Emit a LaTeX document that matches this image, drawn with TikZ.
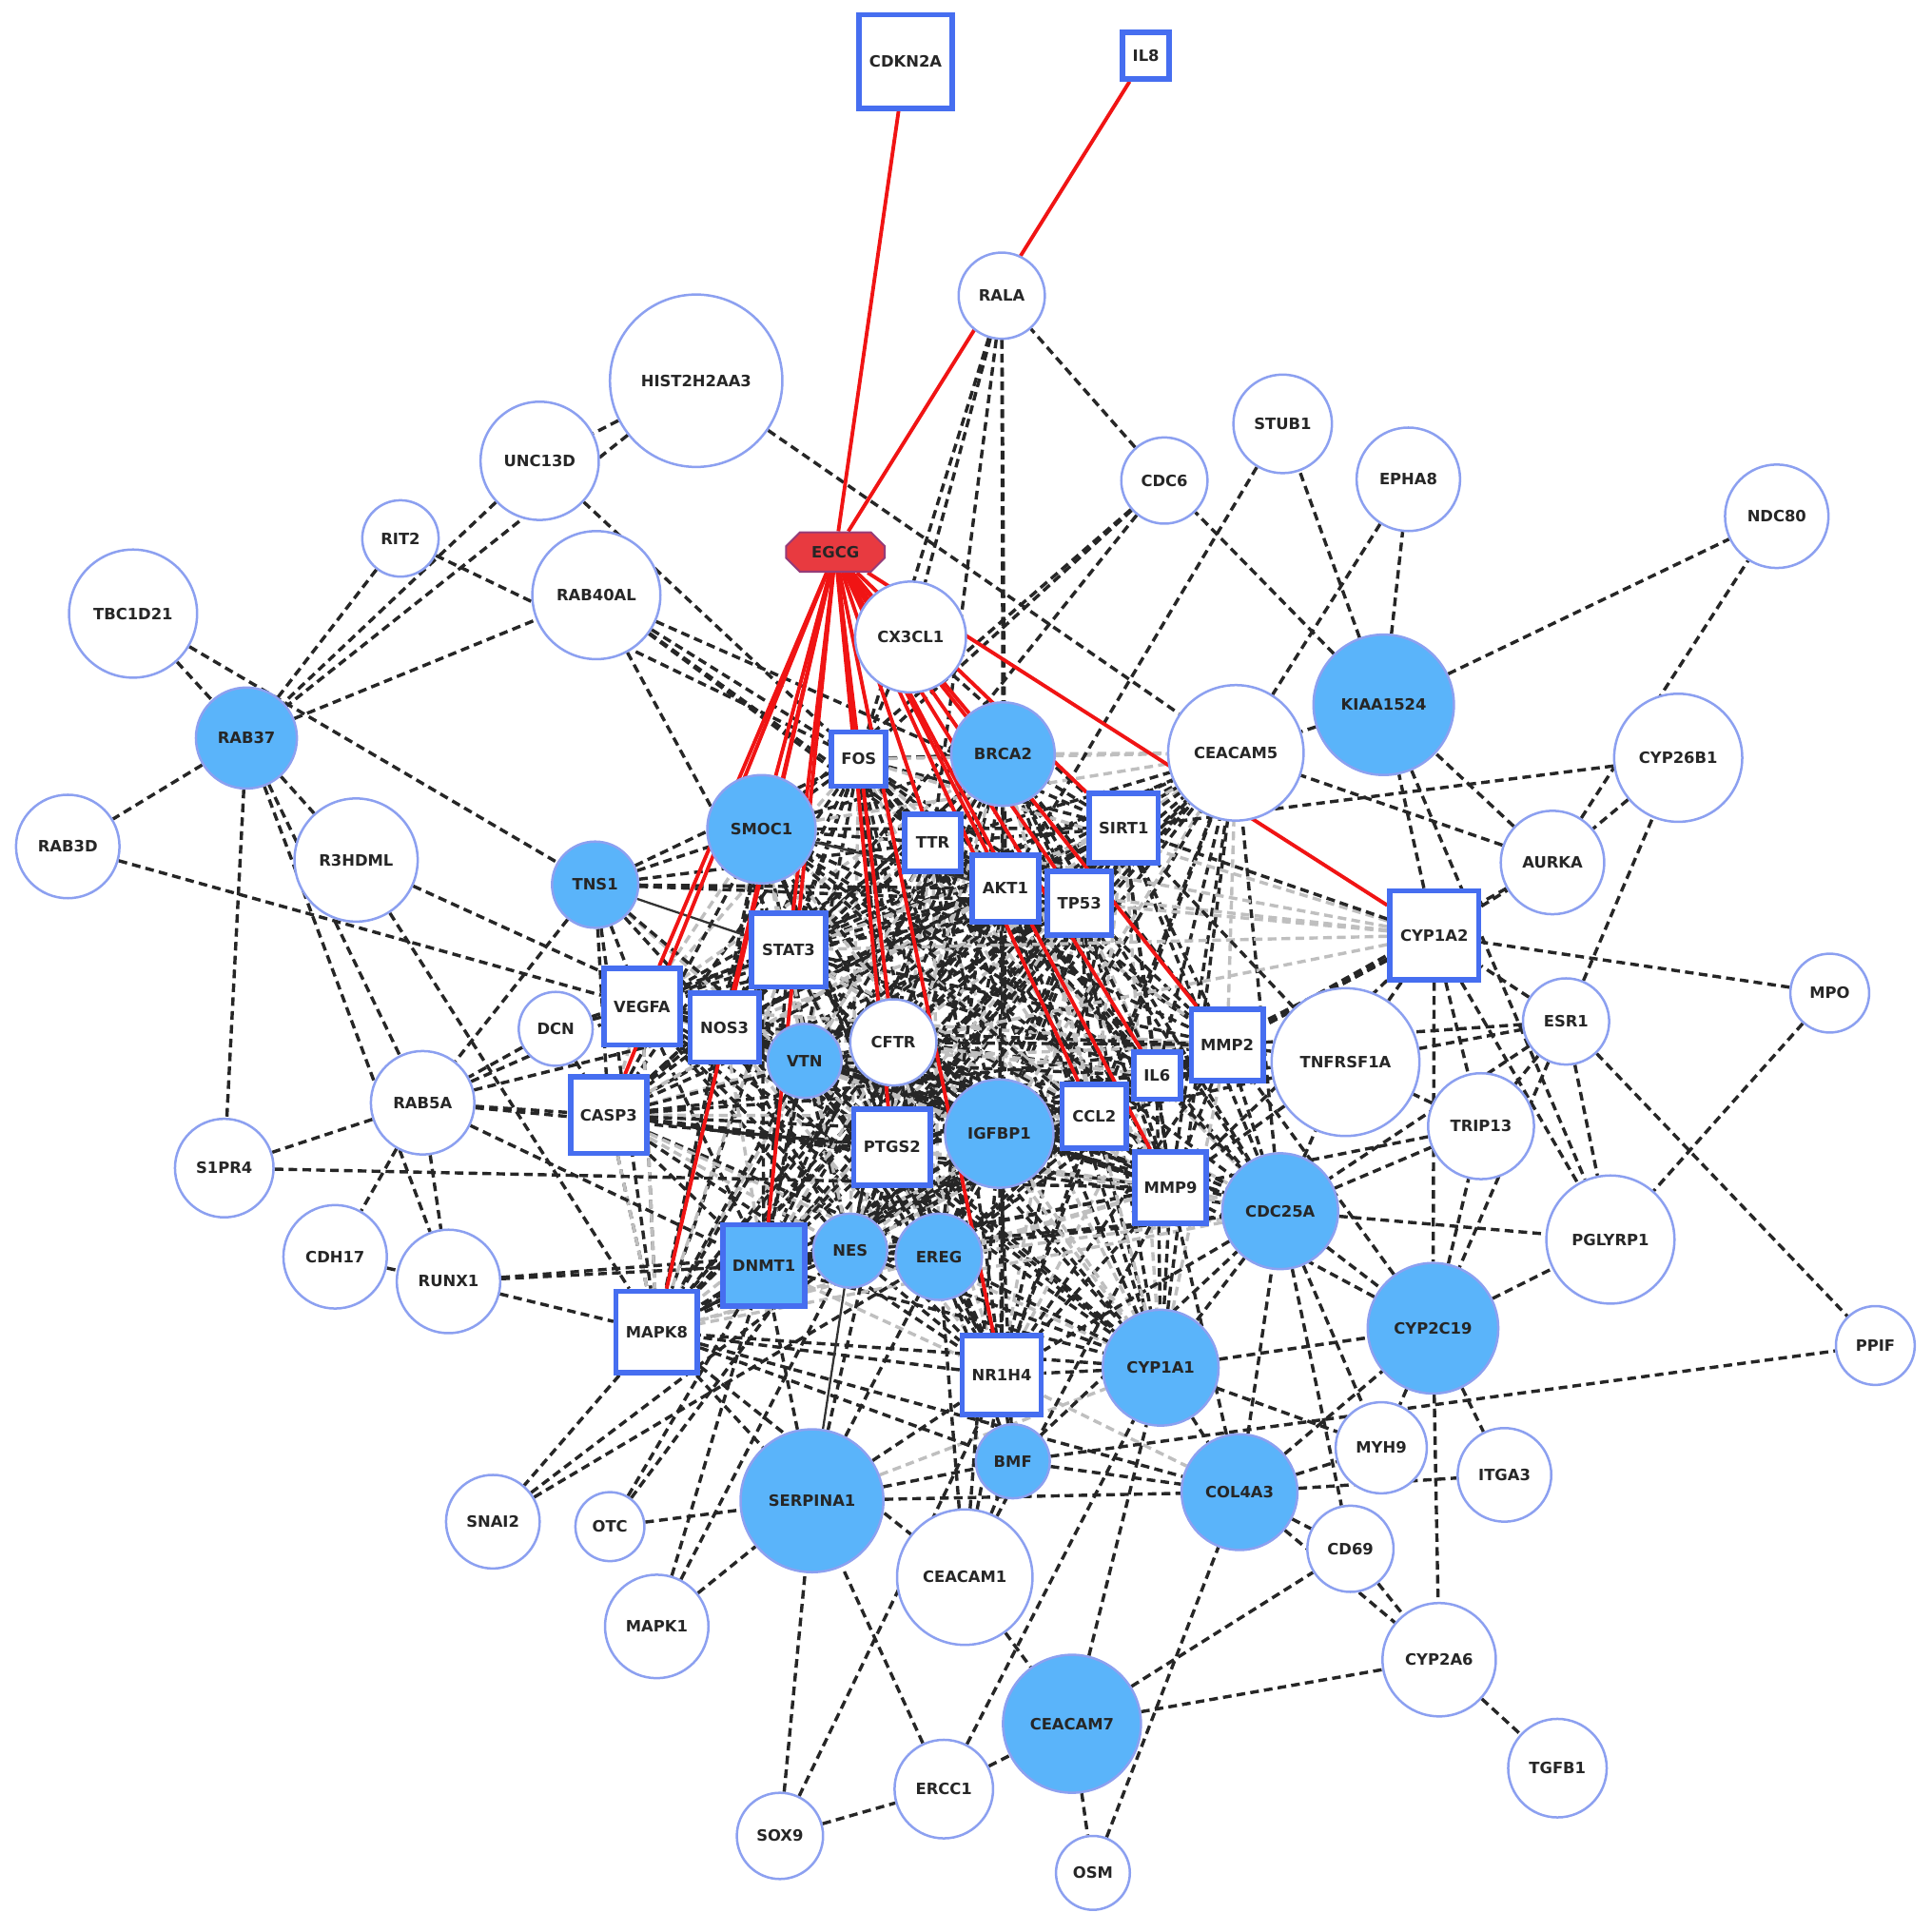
\documentclass[tikz,border=0pt]{standalone}
\usepackage{fontspec}
\setmainfont{DejaVu Sans}
\usepackage{xcolor}
\usepackage{tikz}
\usetikzlibrary{shapes,arrows.meta,backgrounds}

\definecolor{hitblue}{RGB}{90,180,250}
\definecolor{ringblue}{RGB}{140,160,240}
\definecolor{boxblue}{RGB}{70,110,240}
\definecolor{drugred}{RGB}{232,58,64}
\definecolor{drugline}{RGB}{150,60,120}
\definecolor{linkred}{RGB}{240,20,20}

\newcommand{\genefont}{\fontsize{7.2}{8}\selectfont\bfseries}
\newcommand{\corelist}{FOS,TTR,AKT1,TP53,SIRT1,STAT3,VEGFA,NOS3,CASP3,PTGS2,CCL2,IL6,MMP2,MMP9,VTN,CFTR,IGFBP1,EREG,NES,DNMT1,SMOC1,CDC25A,CYP1A1,NR1H4,BRCA2,MAPK8,CEACAM5}

\begin{document}
\begin{tikzpicture}[
    x=0.02cm, y=-0.02cm,
    gene/.style={circle, draw=ringblue, line width=1.1pt, fill=white, minimum size=#1*0.04cm, inner sep=0pt, font=\genefont, text=black!85},
    hit/.style={gene=#1, fill=hitblue},
    target/.style={rectangle, draw=boxblue, line width=2.5pt, fill=white, minimum size=#1*0.02cm, inner sep=0pt, font=\genefont, text=black!85},
    drug/.style={chamfered rectangle, chamfered rectangle xsep=0.22cm, draw=drugline, line width=0.9pt, fill=drugred, minimum width=1.6cm, minimum height=0.64cm, inner sep=0pt, font=\genefont, text=black!85},
    assoc/.style={black!85, line width=1.5pt, dash pattern=on 4pt off 2.4pt},
    assocfaint/.style={assoc, black!25},
    assocsolid/.style={black!80, line width=1pt},
    egcglink/.style={linkred, line width=1.7pt}
]
    \useasboundingbox (0,0) rectangle (1568,1568);

    % compound
    \node[drug] (EGCG) at (678,448) {EGCG};

    % targets
    \node[target=76] (CDKN2A) at (735,50) {CDKN2A};
    \node[target=38] (IL8) at (930,45) {IL8};
    \node[target=44] (FOS) at (697,616) {FOS};
    \node[target=46] (TTR) at (757,684) {TTR};
    \node[target=54] (AKT1) at (816,721) {AKT1};
    \node[target=52] (TP53) at (876,733) {TP53};
    \node[target=56] (SIRT1) at (912,672) {SIRT1};
    \node[target=60] (STAT3) at (640,771) {STAT3};
    \node[target=62] (VEGFA) at (521,817) {VEGFA};
    \node[target=56] (NOS3) at (588,834) {NOS3};
    \node[target=62] (CASP3) at (494,905) {CASP3};
    \node[target=62] (PTGS2) at (724,931) {PTGS2};
    \node[target=52] (CCL2) at (888,906) {CCL2};
    \node[target=38] (IL6) at (939,873) {IL6};
    \node[target=58] (MMP2) at (996,848) {MMP2};
    \node[target=58] (MMP9) at (950,964) {MMP9};
    \node[target=72] (CYP1A2) at (1164,759) {CYP1A2};
    \node[target=66] (MAPK8) at (533,1081) {MAPK8};
    \node[target=64] (NR1H4) at (813,1116) {NR1H4};
    \node[target=66, fill=hitblue] (DNMT1) at (620,1027) {DNMT1};

    % genes
    \node[gene=35] (RALA) at (813,240) {RALA};
    \node[gene=70] (HIST2H2AA3) at (565,309) {HIST2H2AA3};
    \node[gene=48] (UNC13D) at (438,374) {UNC13D};
    \node[gene=31] (RIT2) at (325,437) {RIT2};
    \node[gene=52] (TBC1D21) at (108,498) {TBC1D21};
    \node[gene=52] (RAB40AL) at (484,483) {RAB40AL};
    \node[gene=45] (CX3CL1) at (739,517) {CX3CL1};
    \node[gene=35] (CDC6) at (945,390) {CDC6};
    \node[gene=40] (STUB1) at (1041,344) {STUB1};
    \node[gene=42] (EPHA8) at (1143,389) {EPHA8};
    \node[gene=42] (NDC80) at (1442,419) {NDC80};
    \node[gene=55] (CEACAM5) at (1003,611) {CEACAM5};
    \node[gene=52] (CYP26B1) at (1362,615) {CYP26B1};
    \node[gene=42] (AURKA) at (1260,700) {AURKA};
    \node[gene=50] (R3HDML) at (289,698) {R3HDML};
    \node[gene=42] (RAB3D) at (55,687) {RAB3D};
    \node[gene=30] (DCN) at (451,835) {DCN};
    \node[gene=35] (CFTR) at (725,846) {CFTR};
    \node[gene=60] (TNFRSF1A) at (1092,862) {TNFRSF1A};
    \node[gene=35] (ESR1) at (1271,829) {ESR1};
    \node[gene=32] (MPO) at (1485,806) {MPO};
    \node[gene=43] (TRIP13) at (1202,914) {TRIP13};
    \node[gene=42] (RAB5A) at (343,895) {RAB5A};
    \node[gene=40] (S1PR4) at (182,948) {S1PR4};
    \node[gene=42] (CDH17) at (272,1020) {CDH17};
    \node[gene=42] (RUNX1) at (364,1040) {RUNX1};
    \node[gene=52] (PGLYRP1) at (1307,1006) {PGLYRP1};
    \node[gene=32] (PPIF) at (1522,1092) {PPIF};
    \node[gene=37] (MYH9) at (1121,1175) {MYH9};
    \node[gene=38] (ITGA3) at (1221,1197) {ITGA3};
    \node[gene=35] (CD69) at (1096,1257) {CD69};
    \node[gene=55] (CEACAM1) at (783,1280) {CEACAM1};
    \node[gene=38] (SNAI2) at (400,1235) {SNAI2};
    \node[gene=28] (OTC) at (495,1239) {OTC};
    \node[gene=42] (MAPK1) at (533,1320) {MAPK1};
    \node[gene=46] (CYP2A6) at (1168,1347) {CYP2A6};
    \node[gene=40] (TGFB1) at (1264,1435) {TGFB1};
    \node[gene=40] (ERCC1) at (766,1452) {ERCC1};
    \node[gene=35] (SOX9) at (633,1490) {SOX9};
    \node[gene=30] (OSM) at (887,1520) {OSM};

    % genes hit by the compound
    \node[hit=41] (RAB37) at (200,599) {RAB37};
    \node[hit=35] (TNS1) at (483,718) {TNS1};
    \node[hit=44] (SMOC1) at (618,673) {SMOC1};
    \node[hit=42] (BRCA2) at (814,612) {BRCA2};
    \node[hit=57] (KIAA1524) at (1123,572) {KIAA1524};
    \node[hit=30] (VTN) at (653,861) {VTN};
    \node[hit=44] (IGFBP1) at (811,920) {IGFBP1};
    \node[hit=47] (CDC25A) at (1039,983) {CDC25A};
    \node[hit=30] (NES) at (690,1015) {NES};
    \node[hit=35] (EREG) at (762,1020) {EREG};
    \node[hit=53] (CYP2C19) at (1163,1078) {CYP2C19};
    \node[hit=47] (CYP1A1) at (942,1110) {CYP1A1};
    \node[hit=30] (BMF) at (822,1186) {BMF};
    \node[hit=47] (COL4A3) at (1006,1211) {COL4A3};
    \node[hit=58] (SERPINA1) at (659,1218) {SERPINA1};
    \node[hit=56] (CEACAM7) at (870,1399) {CEACAM7};

    \begin{scope}[on background layer]
    % dense core
    \foreach \a [count=\i] in \corelist {
        \foreach \b [count=\j] in \corelist {
            \ifnum\j>\i
                \pgfmathtruncatemacro\m{mod(\i+\j,4)}
                \ifnum\m=0 \draw[assocfaint] (\a) -- (\b); \else \draw[assoc] (\a) -- (\b); \fi
            \fi
        }
    }
    % faint links
    \foreach \a/\b in {CYP1A2/TP53, CYP1A2/AKT1, CYP1A2/TTR, CYP1A2/FOS, CYP1A2/STAT3, CYP1A2/VTN,
        VEGFA/MAPK8, CASP3/MAPK8, SERPINA1/CYP1A1, CYP1A1/CYP2C19, TNS1/PTGS2, NR1H4/COL4A3}
        \draw[assocfaint] (\a) -- (\b);
    % other links
    \foreach \a/\b in {HIST2H2AA3/UNC13D, HIST2H2AA3/RAB37, UNC13D/RAB37, RIT2/RAB37, RAB37/RAB40AL,
        RIT2/FOS, UNC13D/FOS, HIST2H2AA3/CEACAM5, TBC1D21/RAB37, TBC1D21/TNS1, RAB37/RAB3D,
        RAB37/S1PR4, RAB37/RAB5A, RAB37/RUNX1, RAB37/R3HDML, RAB3D/VEGFA, R3HDML/NOS3, R3HDML/MAPK8,
        RAB40AL/FOS, RAB40AL/TTR, RAB40AL/STAT3, RAB40AL/AKT1, RAB40AL/SIRT1,
        TNS1/SMOC1, TNS1/FOS, TNS1/TTR, TNS1/AKT1, TNS1/VEGFA, TNS1/CASP3, TNS1/NOS3, TNS1/MAPK8,
        TNS1/RAB5A, TNS1/VTN, TNS1/TP53,
        DCN/RAB5A, DCN/VEGFA, DCN/CASP3, DCN/STAT3,
        RAB5A/S1PR4, RAB5A/CDH17, RAB5A/RUNX1, RAB5A/CASP3, RAB5A/PTGS2, RAB5A/VEGFA, RAB5A/NOS3, RAB5A/DNMT1,
        S1PR4/MMP9, CDH17/RUNX1, RUNX1/DNMT1, RUNX1/NES, RUNX1/MAPK8,
        MAPK8/SNAI2, SNAI2/NES, SNAI2/EREG, OTC/SERPINA1, OTC/DNMT1, OTC/PTGS2,
        MAPK1/SERPINA1, MAPK1/DNMT1, MAPK1/NES,
        MAPK8/SERPINA1, MAPK8/BMF, MAPK8/COL4A3, MAPK8/CEACAM1,
        SOX9/SERPINA1, SOX9/NR1H4, SOX9/ERCC1, ERCC1/SERPINA1, ERCC1/CEACAM7, ERCC1/CYP1A1,
        CEACAM1/CEACAM7, CEACAM1/BMF, CEACAM1/NR1H4, CEACAM1/EREG, CEACAM1/IGFBP1, CEACAM1/MMP9,
        CEACAM7/OSM, CEACAM7/CYP2A6, CEACAM7/CD69, CEACAM7/CYP1A1, OSM/COL4A3,
        SERPINA1/BMF, SERPINA1/NR1H4, SERPINA1/EREG, SERPINA1/PTGS2, SERPINA1/DNMT1, SERPINA1/COL4A3,
        BMF/COL4A3, BMF/PPIF, BMF/NR1H4, BMF/EREG, BMF/IGFBP1, BMF/CDC25A,
        CYP1A1/COL4A3, CYP1A1/CYP2C19, CYP1A1/MYH9,
        COL4A3/CDC25A, COL4A3/MYH9, COL4A3/ITGA3, COL4A3/CD69, COL4A3/CYP2A6, COL4A3/CYP2C19, COL4A3/MMP9,
        CDC25A/CYP2C19, CDC25A/PGLYRP1, CDC25A/TRIP13, CDC25A/MYH9, CDC25A/CD69, CDC25A/TNFRSF1A,
        CYP2C19/PGLYRP1, CYP2C19/TRIP13, CYP2C19/MYH9, CYP2C19/ITGA3, CYP2C19/CYP2A6, CYP1A2/CYP2C19,
        CYP2C19/MMP9, CYP2C19/MMP2,
        TRIP13/ESR1, TRIP13/TNFRSF1A, TRIP13/MMP9,
        ESR1/PGLYRP1, ESR1/PPIF, ESR1/CYP26B1, ESR1/CYP1A2, ESR1/TNFRSF1A, ESR1/MMP2, ESR1/CDC25A, ESR1/CYP2C19,
        MPO/PGLYRP1, MPO/CYP1A2, CD69/CYP2A6, CYP2A6/TGFB1,
        TNFRSF1A/MMP2, TNFRSF1A/CYP1A2, TNFRSF1A/SIRT1, TNFRSF1A/MMP9, TNFRSF1A/IL6, TNFRSF1A/CCL2,
        CYP1A2/AURKA, CYP1A2/KIAA1524, CYP1A2/SIRT1, CYP1A2/MMP2, CYP1A2/IL6, CYP1A2/CCL2,
        CYP1A2/PGLYRP1, CYP1A2/TRIP13, CYP1A2/MMP9,
        CYP26B1/SIRT1, CYP26B1/AURKA,
        AURKA/NDC80, AURKA/KIAA1524, AURKA/MMP2, AURKA/CEACAM5,
        KIAA1524/NDC80, KIAA1524/EPHA8, KIAA1524/STUB1, KIAA1524/CDC6, KIAA1524/CEACAM5, KIAA1524/PGLYRP1,
        EPHA8/CEACAM5, STUB1/AKT1,
        CDC6/RALA, CDC6/SMOC1, CDC6/FOS, CDC6/STAT3,
        RALA/CX3CL1, RALA/FOS, RALA/TTR, RALA/AKT1, RALA/BRCA2,
        CX3CL1/FOS, CX3CL1/SIRT1}
        \draw[assoc] (\a) -- (\b);
    % solid links
    \draw[assocsolid] (SMOC1) -- (AKT1);
    \draw[assocsolid] (TNS1) -- (STAT3);
    \draw[assocsolid] (NES) -- (SERPINA1);
    % compound-target links
    \foreach \t in {CDKN2A, IL8, CYP1A2, SIRT1, BRCA2, MMP2, MMP9, IL6, CCL2, TP53, AKT1, TTR,
        NR1H4, PTGS2, CFTR, FOS, STAT3, DNMT1, NOS3, MAPK8, CASP3, VEGFA, SMOC1}
        \draw[egcglink] (EGCG) -- (\t);
    \end{scope}
\end{tikzpicture}
\end{document}
